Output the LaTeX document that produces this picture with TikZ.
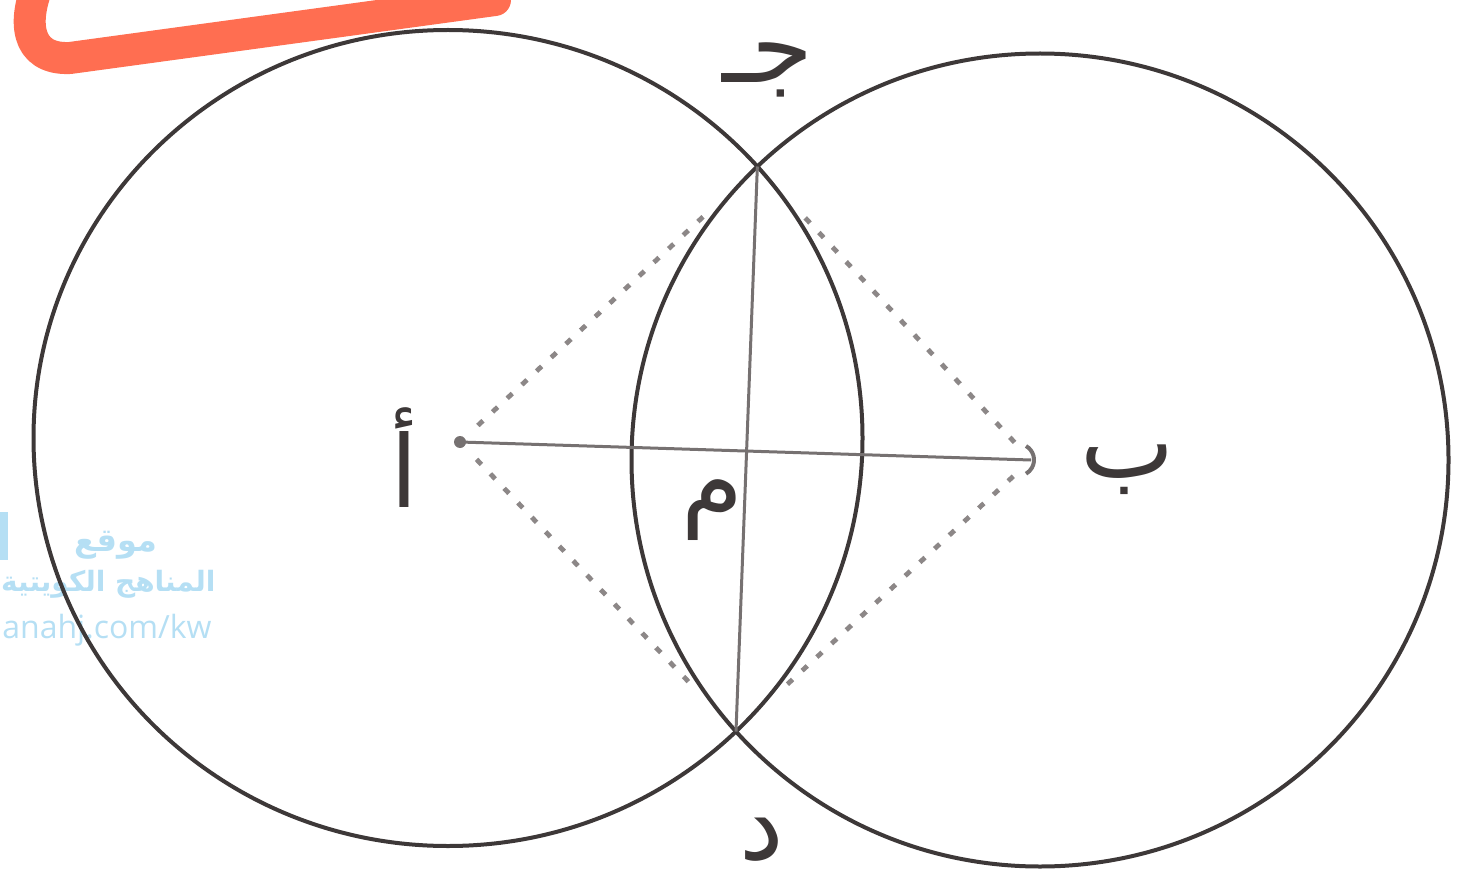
\documentclass[tikz,border=0pt]{standalone}
\usepackage{fontspec}
\usetikzlibrary{intersections,calc}
\TeXXeTstate=1
\newfontfamily\arabicfont[Script=Arabic]{DejaVu Sans}
\newfontfamily\wmfont{Open Sans}
\definecolor{circ}{HTML}{3D3838}
\definecolor{ln}{HTML}{767171}
\definecolor{dsh}{HTML}{8C8787}
\definecolor{wm}{HTML}{B5DFF4}
\definecolor{marker}{HTML}{FF5E3E}
\tikzset{
  circline/.style={draw=circ, line width=2pt},
  solidline/.style={draw=ln, line width=1.5pt},
  dotline/.style={draw=dsh, line width=2.4pt, dash pattern=on 3.5pt off 6.5pt},
  lbl/.style={font=\arabicfont\fontsize{50}{54}\selectfont, text=circ, inner sep=0pt},
  wmtext/.style={text=wm, inner sep=0pt}
}
\begin{document}
\begin{tikzpicture}[x=0.5pt,y=-0.5pt]
\useasboundingbox (0,0) rectangle (1460,882);
% watermark
\fill[wm] (0,512) rectangle (8,560);
\node[wmtext, font=\arabicfont\bfseries\fontsize{16}{19}\selectfont] (wm1) at (116,545) {\beginR موقع\endR};
\node[wmtext, font=\arabicfont\bfseries\fontsize{14}{17}\selectfont, anchor=east] (wm2) at (216,584) {\beginR المناهج الكويتية\endR};
\node[wmtext, font=\wmfont\fontsize{16}{19}\selectfont, anchor=east] (wm3) at (212,630) {anahj.com/kw};
% points
\coordinate (A) at (460,442);
\coordinate (B) at (1031,460);
% circles
\path[circline, name path=L] (448,438) ellipse [x radius=414.5, y radius=408];
\path[circline, name path=R] (1040,460) ellipse [x radius=408.5, y radius=406.5];
\path[name intersections={of=L and R, by={P1,P2}}];
% solid lines
\draw[solidline] (A) -- (B);
\draw[solidline] (P1) -- (P2);
% dashed lines
\draw[dotline] ($(A)!0.06!(P1)$) -- ($(A)!0.84!(P1)$);
\draw[dotline] ($(A)!0.06!(P2)$) -- ($(A)!0.84!(P2)$);
\draw[dotline] ($(B)!0.06!(P1)$) -- ($(B)!0.84!(P1)$);
\draw[dotline] ($(B)!0.06!(P2)$) -- ($(B)!0.84!(P2)$);
% point marks
\fill[ln] (A) circle [radius=6];
\draw[ln, line width=2pt] (1026,446) arc[start angle=120, end angle=240, radius=-16];
% labels
\node[lbl] (la) at (404,458) {\beginR أ\endR};
\node[lbl] (lb) at (1128,470) {\beginR ب\endR};
\node[lbl] (lc) at (768,70) {\beginR جـ\endR};
\node[lbl] (ld) at (762,840) {\beginR د\endR};
\node[lbl] (lm) at (712,510) {\beginR م\endR};
% red marker stroke
\draw[marker, opacity=0.9, line width=16pt, line cap=round, line join=round]
  (40,-20) .. controls (22,20) and (25,60) .. (70,58) -- (495,0);
\end{tikzpicture}
\end{document}
